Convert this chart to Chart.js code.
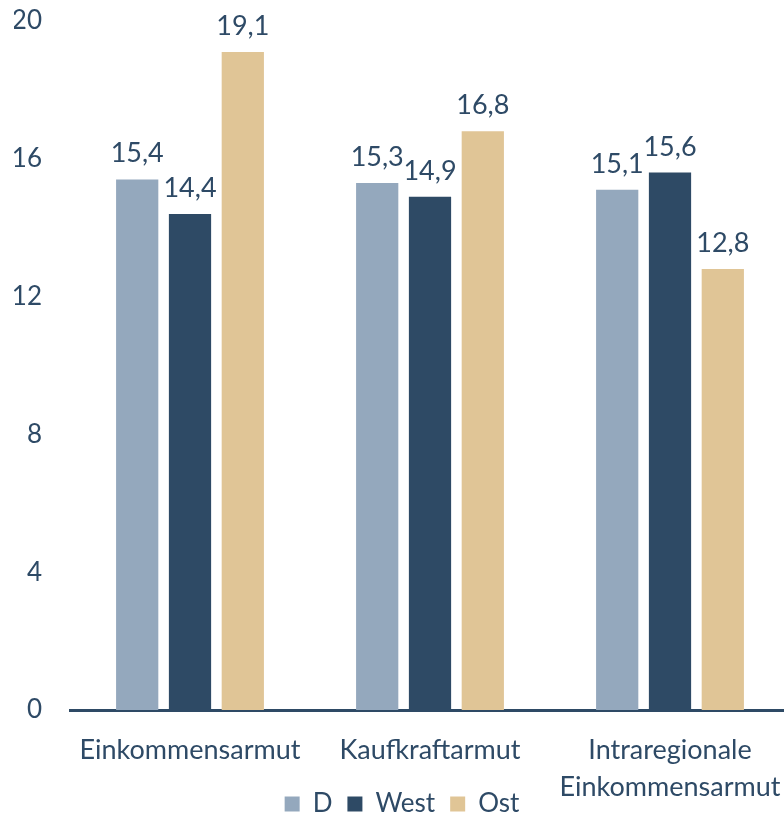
<!DOCTYPE html>
<html>
<head>
<meta charset="utf-8">
<script src="https://cdn.jsdelivr.net/npm/chart.js@4"></script>
<style>
  html, body { margin: 0; padding: 0; overflow: hidden; background: #fff; }
  #wrap { width: 815px; height: 815px; position: relative; }
</style>
</head>
<body>
<div id="wrap"><canvas id="c"></canvas></div>
<script>
const categories = ["Einkommensarmut", "Kaufkraftarmut", ["Intraregionale", "Einkommensarmut"]];
const seriesD = [15.4, 15.3, 15.1];
const seriesWest = [14.4, 14.9, 15.6];
const seriesOst = [19.1, 16.8, 12.8];
const yTicks = [0, 4, 8, 12, 16, 20];

const TEXT = "#2E4A66";
const FONT = "Lato";

const valueLabels = {
  id: "valueLabels",
  afterDatasetsDraw(chart) {
    const ctx = chart.ctx;
    ctx.save();
    ctx.font = "27px " + FONT;
    ctx.fillStyle = TEXT;
    ctx.textAlign = "center";
    ctx.textBaseline = "alphabetic";
    chart.data.datasets.forEach((ds, i) => {
      const meta = chart.getDatasetMeta(i);
      meta.data.forEach((el, j) => {
        const txt = ds.data[j].toFixed(1).replace(".", ",");
        ctx.fillText(txt, el.x, el.y - 17);
      });
    });
    ctx.restore();
  }
};

new Chart(document.getElementById("c"), {
  type: "bar",
  data: {
    labels: categories,
    datasets: [
      { label: "D", data: seriesD, backgroundColor: "#94A8BD" },
      { label: "West", data: seriesWest, backgroundColor: "#2E4A65" },
      { label: "Ost", data: seriesOst, backgroundColor: "#E0C596" }
    ]
  },
  options: {
    responsive: true,
    maintainAspectRatio: false,
    animation: false,
    layout: { padding: { left: 14, right: 25, top: 21, bottom: -12 } },
    datasets: { bar: { categoryPercentage: 0.66, barPercentage: 0.8 } },
    plugins: {
      legend: {
        position: "bottom",
        labels: {
          color: TEXT,
          font: { family: FONT, size: 26 },
          boxWidth: 15, boxHeight: 15,
          padding: 15
        }
      },
      tooltip: { enabled: false }
    },
    scales: {
      x: {
        afterFit(scale) {
          scale.height = scale.height - 44;
          scale._computeLabelArea = function () { return undefined; };
        },
        grid: { display: false },
        border: { display: true, color: "#2E4A65", width: 3 },
        ticks: { color: TEXT, font: { family: FONT, size: 27, lineHeight: 1.37 }, padding: 14, maxRotation: 0, autoSkip: false }
      },
      y: {
        min: 0, max: 20,
        afterBuildTicks(scale) { scale.ticks = yTicks.map(v => ({ value: v })); },
        afterFit(scale) { scale.width = 56; scale.paddingTop = 0; scale.paddingBottom = 0; },
        grid: { display: false },
        border: { display: false },
        ticks: { color: TEXT, font: { family: FONT, size: 26 }, padding: 20 }
      }
    }
  },
  plugins: [valueLabels]
});
</script>
</body>
</html>
